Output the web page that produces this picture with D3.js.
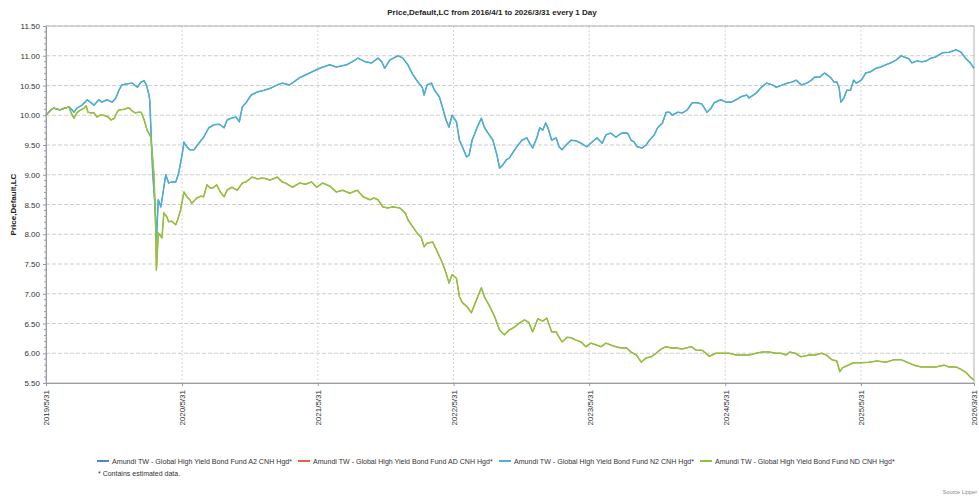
<!DOCTYPE html>
<html>
<head>
<meta charset="utf-8">
<script src="https://cdn.jsdelivr.net/npm/d3@7"></script>
<style>
  body { margin: 0; background: #fff; }
  svg { display: block; font-family: "Liberation Sans", Arial, sans-serif; }
</style>
</head>
<body>
<script>
let w = 979;
let h = 499;
let plotLeft = 46;
let plotRight = 974;
let plotTop = 26;
let plotBottom = 383;

// accumulating share classes (A2 / N2 plot on top of each other)
const accData = [
  ["2019-05-31",10.00],["2019-06-13",10.09],["2019-06-21",10.12],["2019-07-07",10.09],["2019-07-20",10.12],
  ["2019-08-01",10.14],["2019-08-09",10.09],["2019-08-14",10.05],["2019-08-22",10.12],["2019-09-05",10.17],
  ["2019-09-19",10.26],["2019-09-29",10.21],["2019-10-07",10.17],["2019-10-20",10.26],["2019-10-28",10.22],
  ["2019-11-11",10.26],["2019-11-25",10.22],["2019-12-05",10.29],["2019-12-13",10.42],["2019-12-21",10.51],
  ["2020-01-05",10.53],["2020-01-18",10.54],["2020-02-01",10.47],["2020-02-11",10.56],["2020-02-19",10.58],
  ["2020-02-25",10.51],["2020-03-02",10.37],["2020-03-05",10.26],["2020-03-08",9.80],["2020-03-13",9.03],
  ["2020-03-18",8.58],["2020-03-20",8.36],["2020-03-23",7.90],["2020-03-28",8.58],["2020-04-04",8.46],
  ["2020-04-12",8.79],["2020-04-17",9.00],["2020-04-25",8.86],["2020-05-03",8.88],["2020-05-14",8.88],
  ["2020-05-22",9.03],["2020-06-01",9.37],["2020-06-05",9.55],["2020-06-13",9.47],["2020-06-21",9.42],
  ["2020-07-02",9.42],["2020-07-15",9.53],["2020-07-28",9.63],["2020-08-11",9.79],["2020-08-25",9.84],
  ["2020-09-08",9.85],["2020-09-21",9.79],["2020-09-29",9.92],["2020-10-10",9.95],["2020-10-23",9.97],
  ["2020-11-01",9.89],["2020-11-09",10.14],["2020-11-19",10.21],["2020-12-03",10.34],["2020-12-19",10.39],
  ["2021-01-07",10.42],["2021-01-26",10.46],["2021-02-11",10.51],["2021-02-24",10.54],["2021-03-16",10.51],
  ["2021-04-12",10.63],["2021-05-09",10.71],["2021-06-05",10.79],["2021-07-02",10.85],["2021-07-20",10.81],
  ["2021-08-17",10.85],["2021-09-01",10.90],["2021-09-16",10.96],["2021-10-05",10.90],["2021-10-23",10.88],
  ["2021-11-09",10.96],["2021-11-19",10.90],["2021-11-27",10.79],["2021-12-11",10.93],["2022-01-02",11.00],
  ["2022-01-15",10.96],["2022-01-28",10.85],["2022-02-11",10.68],["2022-02-24",10.56],["2022-03-08",10.47],
  ["2022-03-13",10.34],["2022-03-21",10.51],["2022-04-02",10.54],["2022-04-10",10.42],["2022-04-23",10.31],
  ["2022-05-01",10.14],["2022-05-11",9.92],["2022-05-19",9.80],["2022-05-27",10.00],["2022-06-08",9.89],
  ["2022-06-16",9.58],["2022-06-24",9.47],["2022-07-05",9.30],["2022-07-12",9.33],["2022-07-20",9.58],
  ["2022-08-03",9.80],["2022-08-14",9.95],["2022-08-22",9.80],["2022-09-01",9.70],["2022-09-14",9.58],
  ["2022-09-25",9.33],["2022-10-02",9.11],["2022-10-10",9.16],["2022-10-20",9.25],["2022-10-28",9.28],
  ["2022-11-17",9.47],["2022-12-01",9.58],["2022-12-14",9.62],["2022-12-22",9.53],["2022-12-30",9.45],
  ["2023-01-10",9.62],["2023-01-18",9.79],["2023-01-26",9.75],["2023-02-03",9.87],["2023-02-09",9.79],
  ["2023-02-19",9.58],["2023-03-03",9.62],["2023-03-11",9.47],["2023-03-19",9.42],["2023-03-30",9.50],
  ["2023-04-12",9.58],["2023-04-26",9.57],["2023-05-09",9.53],["2023-05-25",9.47],["2023-06-08",9.55],
  ["2023-06-21",9.62],["2023-07-05",9.53],["2023-07-15",9.67],["2023-07-28",9.70],["2023-08-11",9.63],
  ["2023-08-19",9.67],["2023-08-27",9.70],["2023-09-11",9.70],["2023-09-21",9.58],["2023-09-29",9.55],
  ["2023-10-07",9.47],["2023-10-20",9.45],["2023-10-31",9.50],["2023-11-09",9.58],["2023-11-22",9.67],
  ["2023-12-01",9.79],["2023-12-14",9.87],["2023-12-24",10.05],["2024-01-02",10.05],["2024-01-10",10.00],
  ["2024-01-23",10.05],["2024-02-06",10.04],["2024-02-19",10.09],["2024-03-03",10.21],["2024-03-16",10.21],
  ["2024-03-29",10.19],["2024-04-12",10.05],["2024-04-23",10.12],["2024-05-01",10.21],["2024-05-19",10.26],
  ["2024-06-03",10.22],["2024-06-16",10.22],["2024-06-29",10.26],["2024-07-12",10.31],["2024-07-28",10.34],
  ["2024-08-03",10.29],["2024-08-22",10.37],["2024-09-05",10.47],["2024-09-19",10.54],["2024-10-05",10.51],
  ["2024-10-15",10.47],["2024-11-01",10.51],["2024-11-14",10.54],["2024-11-27",10.56],["2024-12-08",10.59],
  ["2024-12-21",10.51],["2025-01-05",10.54],["2025-01-18",10.59],["2025-01-26",10.64],["2025-02-09",10.64],
  ["2025-02-22",10.71],["2025-03-01",10.68],["2025-03-11",10.63],["2025-03-19",10.56],["2025-03-27",10.56],
  ["2025-04-02",10.47],["2025-04-07",10.22],["2025-04-15",10.29],["2025-04-23",10.42],["2025-05-03",10.42],
  ["2025-05-11",10.59],["2025-05-19",10.54],["2025-06-01",10.59],["2025-06-13",10.71],["2025-06-26",10.73],
  ["2025-07-10",10.79],["2025-07-23",10.81],["2025-08-06",10.85],["2025-08-19",10.88],["2025-09-03",10.93],
  ["2025-09-16",11.00],["2025-09-24",10.98],["2025-10-07",10.95],["2025-10-15",10.88],["2025-10-28",10.91],
  ["2025-11-11",10.90],["2025-11-22",10.91],["2025-12-05",10.96],["2025-12-18",10.98],["2026-01-05",11.05],
  ["2026-01-23",11.06],["2026-02-11",11.10],["2026-02-24",11.06],["2026-03-08",10.96],["2026-03-21",10.88],
  ["2026-03-31",10.79]
];

// distributing share classes (AD / ND)
const distData = [
  ["2019-05-31",10.00],["2019-06-13",10.09],["2019-06-21",10.12],["2019-07-07",10.09],["2019-07-20",10.12],
  ["2019-08-01",10.14],["2019-08-06",10.05],["2019-08-14",9.95],["2019-08-22",10.04],["2019-09-01",10.09],
  ["2019-09-11",10.12],["2019-09-16",10.16],["2019-09-21",10.05],["2019-09-29",10.04],["2019-10-07",10.04],
  ["2019-10-15",9.97],["2019-10-23",10.00],["2019-11-03",10.00],["2019-11-14",9.97],["2019-11-22",9.92],
  ["2019-12-01",9.95],["2019-12-08",10.05],["2019-12-13",10.09],["2019-12-27",10.10],["2020-01-05",10.12],
  ["2020-01-10",10.12],["2020-01-18",10.07],["2020-01-26",10.04],["2020-02-03",10.05],["2020-02-11",10.05],
  ["2020-02-19",9.92],["2020-02-27",9.75],["2020-03-08",9.63],["2020-03-16",9.03],["2020-03-20",8.36],
  ["2020-03-23",7.40],["2020-03-28",8.02],["2020-04-07",7.94],["2020-04-12",8.36],["2020-04-20",8.29],
  ["2020-04-25",8.21],["2020-05-03",8.22],["2020-05-14",8.16],["2020-05-19",8.24],["2020-05-27",8.41],
  ["2020-06-05",8.71],["2020-06-13",8.63],["2020-06-21",8.58],["2020-06-26",8.52],["2020-07-10",8.61],
  ["2020-07-20",8.64],["2020-07-28",8.63],["2020-08-06",8.83],["2020-08-14",8.78],["2020-08-22",8.78],
  ["2020-09-01",8.83],["2020-09-11",8.71],["2020-09-21",8.63],["2020-09-29",8.74],["2020-10-12",8.79],
  ["2020-10-26",8.74],["2020-11-09",8.86],["2020-11-19",8.88],["2020-12-05",8.96],["2020-12-19",8.93],
  ["2020-12-29",8.94],["2021-01-07",8.94],["2021-01-23",8.91],["2021-02-11",8.96],["2021-02-24",8.88],
  ["2021-03-05",8.86],["2021-03-24",8.79],["2021-04-12",8.86],["2021-04-28",8.84],["2021-05-14",8.88],
  ["2021-05-28",8.79],["2021-06-13",8.86],["2021-07-02",8.81],["2021-07-20",8.71],["2021-08-06",8.74],
  ["2021-08-25",8.69],["2021-09-14",8.74],["2021-09-30",8.63],["2021-10-18",8.58],["2021-10-29",8.61],
  ["2021-11-09",8.58],["2021-11-22",8.46],["2021-12-05",8.44],["2021-12-19",8.46],["2022-01-07",8.44],
  ["2022-01-21",8.36],["2022-01-29",8.24],["2022-02-11",8.12],["2022-02-22",8.02],["2022-03-05",7.95],
  ["2022-03-13",7.79],["2022-03-21",7.85],["2022-04-05",7.87],["2022-04-15",7.74],["2022-05-01",7.52],
  ["2022-05-11",7.35],["2022-05-19",7.18],["2022-05-27",7.32],["2022-06-08",7.26],["2022-06-16",6.95],
  ["2022-06-24",6.85],["2022-07-07",6.78],["2022-07-18",6.68],["2022-08-01",6.90],["2022-08-14",7.10],
  ["2022-08-22",6.95],["2022-09-06",6.78],["2022-09-19",6.61],["2022-10-02",6.39],["2022-10-15",6.31],
  ["2022-10-28",6.39],["2022-11-11",6.44],["2022-11-25",6.51],["2022-12-08",6.56],["2022-12-19",6.52],
  ["2022-12-30",6.36],["2023-01-13",6.58],["2023-01-26",6.54],["2023-02-06",6.59],["2023-02-19",6.36],
  ["2023-03-03",6.36],["2023-03-11",6.27],["2023-03-19",6.19],["2023-04-02",6.27],["2023-04-12",6.26],
  ["2023-04-26",6.22],["2023-05-09",6.19],["2023-05-22",6.11],["2023-06-05",6.17],["2023-06-19",6.14],
  ["2023-07-02",6.11],["2023-07-15",6.17],["2023-07-28",6.14],["2023-08-11",6.11],["2023-08-25",6.09],
  ["2023-09-08",6.09],["2023-09-21",6.02],["2023-10-05",5.97],["2023-10-18",5.85],["2023-10-31",5.92],
  ["2023-11-14",5.94],["2023-11-27",6.00],["2023-12-10",6.07],["2023-12-24",6.11],["2024-01-07",6.09],
  ["2024-01-20",6.09],["2024-02-04",6.07],["2024-02-17",6.09],["2024-03-01",6.11],["2024-03-14",6.05],
  ["2024-03-30",6.05],["2024-04-18",5.95],["2024-05-06",6.00],["2024-05-22",6.00],["2024-06-11",6.00],
  ["2024-06-29",5.97],["2024-07-15",5.97],["2024-08-03",5.97],["2024-08-22",6.00],["2024-09-08",6.02],
  ["2024-09-26",6.02],["2024-10-15",6.00],["2024-10-28",6.00],["2024-11-11",5.97],["2024-11-20",6.02],
  ["2024-12-05",6.00],["2024-12-21",5.94],["2025-01-12",5.97],["2025-01-28",5.97],["2025-02-14",6.00],
  ["2025-02-27",5.97],["2025-03-14",5.89],["2025-03-27",5.87],["2025-04-04",5.69],["2025-04-10",5.75],
  ["2025-04-23",5.79],["2025-05-11",5.84],["2025-06-01",5.84],["2025-06-21",5.85],["2025-07-13",5.87],
  ["2025-08-06",5.85],["2025-08-28",5.89],["2025-09-16",5.89],["2025-10-02",5.85],["2025-10-21",5.80],
  ["2025-11-09",5.77],["2025-11-25",5.77],["2025-12-18",5.77],["2026-01-10",5.80],["2026-01-23",5.77],
  ["2026-02-11",5.77],["2026-02-27",5.72],["2026-03-11",5.67],["2026-03-21",5.60],["2026-03-31",5.55]
];

const seriesNames = [
  "Amundi TW - Global High Yield Bond Fund A2 CNH Hgd*",
  "Amundi TW - Global High Yield Bond Fund AD CNH Hgd*",
  "Amundi TW - Global High Yield Bond Fund N2 CNH Hgd*",
  "Amundi TW - Global High Yield Bond Fund ND CNH Hgd*"
];
const seriesColors = ["#5083d3", "#e8643a", "#4cb0d0", "#8cc63f"];
const seriesData = [accData, distData, accData, distData];

const xTickDates = ["2019-05-31", "2020-05-31", "2021-05-31", "2022-05-31", "2023-05-31", "2024-05-31", "2025-05-31", "2026-03-31"];
const yTicks = [5.5, 6.0, 6.5, 7.0, 7.5, 8.0, 8.5, 9.0, 9.5, 10.0, 10.5, 11.0, 11.5];

const parseDate = d3.timeParse("%Y-%m-%d");
const fmtTick = d3.timeFormat("%Y/%-m/%-d");

let svg = d3.select("body").append("svg").attr("width", w).attr("height", h);

let xScale = d3.scaleTime()
  .domain([parseDate("2019-05-31"), parseDate("2026-03-31")])
  .range([plotLeft, plotRight]);

let yScale = d3.scaleLinear()
  .domain([5.5, 11.5])
  .range([plotBottom, plotTop]);

// title
svg.append("text")
  .attr("x", 492)
  .attr("y", 15)
  .attr("text-anchor", "middle")
  .attr("font-size", "8px")
  .attr("font-weight", "bold")
  .attr("fill", "#222")
  .text("Price,Default,LC from 2016/4/1 to 2026/3/31 every 1 Day");

// horizontal grid
svg.append("g").selectAll("line")
  .data(yTicks.filter(d => d > 5.5))
  .enter()
  .append("line")
  .attr("x1", plotLeft)
  .attr("x2", plotRight)
  .attr("y1", d => yScale(d))
  .attr("y2", d => yScale(d))
  .attr("stroke", "#cdcdcd")
  .attr("stroke-dasharray", "4,2");

// vertical grid
svg.append("g").selectAll("line")
  .data(xTickDates.slice(1, -1))
  .enter()
  .append("line")
  .attr("x1", d => xScale(parseDate(d)))
  .attr("x2", d => xScale(parseDate(d)))
  .attr("y1", plotTop)
  .attr("y2", plotBottom)
  .attr("stroke", "#d4d4dc")
  .attr("stroke-dasharray", "2,2");

// frame
svg.append("rect")
  .attr("x", plotLeft)
  .attr("y", plotTop)
  .attr("width", plotRight - plotLeft)
  .attr("height", plotBottom - plotTop)
  .attr("fill", "none")
  .attr("stroke", "#b4b4bc");

// lines (A2/AD sit underneath N2/ND, slightly thinner so they only peek out)
let line = d3.line()
  .x(d => xScale(parseDate(d[0])))
  .y(d => yScale(d[1]));

seriesData.forEach((data, i) => {
  svg.append("path")
    .datum(data)
    .attr("fill", "none")
    .attr("stroke", seriesColors[i])
    .attr("stroke-width", i < 2 ? 1.1 : 1.5)
    .attr("stroke-linejoin", "round")
    .attr("d", line);
});

// y axis
const yAxis = d3.axisLeft(yScale)
  .tickValues(yTicks)
  .tickFormat(d3.format(".2f"))
  .tickSize(3);

let yG = svg.append("g")
  .attr("class", "y axis")
  .attr("transform", "translate(" + plotLeft + ",0)")
  .call(yAxis);
yG.select(".domain").attr("stroke", "#9a9aa6");
yG.selectAll(".tick line").attr("stroke", "#9a9aa6");
yG.selectAll(".tick text").attr("font-size", "8px").attr("fill", "#333").attr("font-family", "Liberation Sans, Arial, sans-serif");

// minor y ticks every 0.1
const minorTicks = d3.range(55, 116).map(d => d / 10).filter(d => Math.round(d * 10) % 5 !== 0);
svg.append("g").selectAll("line")
  .data(minorTicks)
  .enter()
  .append("line")
  .attr("x1", plotLeft - 2)
  .attr("x2", plotLeft)
  .attr("y1", d => yScale(d))
  .attr("y2", d => yScale(d))
  .attr("stroke", "#9a9aa6");

// x axis
const xAxis = d3.axisBottom(xScale)
  .tickValues(xTickDates.map(parseDate))
  .tickFormat(fmtTick)
  .tickSize(3);

let xG = svg.append("g")
  .attr("class", "x axis")
  .attr("transform", "translate(0," + plotBottom + ")")
  .call(xAxis);
xG.select(".domain").attr("stroke", "#9a9aa6");
xG.selectAll(".tick line").attr("stroke", "#9a9aa6");
xG.selectAll(".tick text")
  .attr("font-size", "8px")
  .attr("fill", "#333")
  .attr("font-family", "Liberation Sans, Arial, sans-serif")
  .attr("text-anchor", "end")
  .attr("transform", "rotate(-90)")
  .attr("x", -7)
  .attr("y", 0)
  .attr("dy", "0.35em");

// y axis label
svg.append("text")
  .attr("transform", "translate(16," + ((plotTop + plotBottom) / 2) + ") rotate(-90)")
  .attr("text-anchor", "middle")
  .attr("font-size", "8px")
  .attr("font-weight", "bold")
  .attr("fill", "#222")
  .text("Price,Default,LC");

// legend
let legend = svg.append("g").attr("transform", "translate(97,461)");
seriesNames.forEach((name, i) => {
  let item = legend.append("g").attr("transform", "translate(" + (i * 201) + ",0)");
  item.append("line")
    .attr("x1", 0).attr("x2", 12)
    .attr("y1", 0).attr("y2", 0)
    .attr("stroke", seriesColors[i])
    .attr("stroke-width", 2);
  let t = item.append("text")
    .attr("x", 15)
    .attr("y", 3)
    .attr("font-size", "7.5px")
    .attr("fill", "#333")
    .text(name);
  // shrink to fit the slot the reference gives each entry
  let len = t.node().getComputedTextLength();
  if (len > 180) t.attr("font-size", (7.5 * 180 / len).toFixed(2) + "px");
});

svg.append("text")
  .attr("x", 98)
  .attr("y", 476)
  .attr("font-size", "7px")
  .attr("fill", "#333")
  .text("*  Contains estimated data.");

svg.append("text")
  .attr("x", 977)
  .attr("y", 494)
  .attr("text-anchor", "end")
  .attr("font-size", "5.5px")
  .attr("fill", "#888")
  .text("Source Lipper");
</script>
</body>
</html>
